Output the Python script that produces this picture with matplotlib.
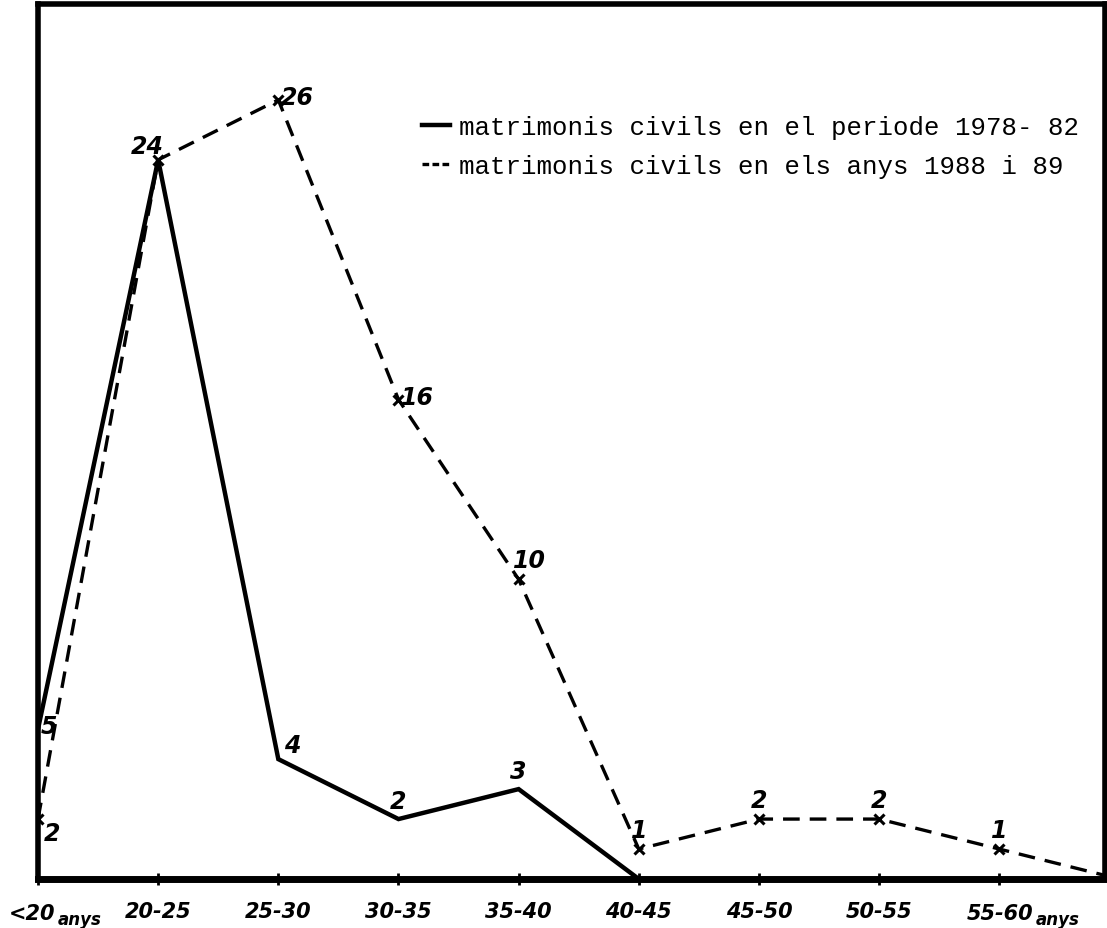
import numpy as np
import matplotlib.pyplot as plt

# data
grups = ['<20', '20-25', '25-30', '30-35', '35-40', '40-45', '45-50', '50-55', '55-60']
periode_78_82 = [5, 24, 4, 2, 3, 0]
anys_88_89 = [2, 24, 26, 16, 10, 1, 2, 2, 1, 0]
etiq_78_82 = ['5', '', '4', '2', '3', '']
etiq_88_89 = ['2', '24', '26', '16', '10', '1', '2', '2', '1', '']

hand = dict(fontsize=17, fontweight='bold', style='italic', family='DejaVu Sans')
tick_font = dict(fontsize=15, fontweight='bold', style='italic')

fig = plt.figure(figsize=(11.07, 9.29), dpi=100)
ax = fig.add_axes([38 / 1107, 49 / 929, 1067 / 1107, 875 / 929])

x1 = np.arange(len(periode_78_82))
x2 = np.arange(len(anys_88_89))
ax.plot(x1, periode_78_82, color='black', lw=3.2, solid_joinstyle='miter')
ax.plot(x2, anys_88_89, color='black', lw=2.4, ls=(0, (5, 3)),
        marker='x', ms=7, mew=2.2)

# point labels
off2 = [(10, -10), (-8, 10), (14, 2), (14, 2), (8, 14), (0, 14), (0, 14), (0, 14), (0, 14), (0, 0)]
for x, y, t, (dx, dy) in zip(x2, anys_88_89, etiq_88_89, off2):
    if t:
        ax.annotate(t, (x, y), xytext=(dx, dy), textcoords='offset points',
                    ha='center', va='center', **hand)
off1 = [(8, 2), (0, 0), (10, 10), (0, 13), (0, 13), (0, 0)]
for x, y, t, (dx, dy) in zip(x1, periode_78_82, etiq_78_82, off1):
    if t:
        ax.annotate(t, (x, y), xytext=(dx, dy), textcoords='offset points',
                    ha='center', va='center', **hand)

ax.set_xlim(0, 8.88)
ax.set_ylim(0, 29.2)
ax.set_yticks([])
ax.set_xticks(np.arange(len(grups)))
ax.set_xticklabels([''] + grups[1:-1] + [''], **tick_font)
ax.tick_params(axis='x', length=8, width=2, direction='inout', pad=12)
for s in ax.spines.values():
    s.set_linewidth(4)
ax.spines['bottom'].set_linewidth(5)

# first and last group labels with small "anys"
trans = ax.get_xaxis_transform()
ax.text(0.14, -0.028, grups[0], transform=trans, ha='right', va='top', **tick_font)
ax.text(0.16, -0.036, 'anys', transform=trans, ha='left', va='top',
        fontsize=12, fontweight='bold', style='italic')
ax.text(8.28, -0.028, grups[-1], transform=trans, ha='right', va='top', **tick_font)
ax.text(8.30, -0.036, 'anys', transform=trans, ha='left', va='top',
        fontsize=12, fontweight='bold', style='italic')

# legend
leg = ax.legend(['matrimonis civils en el periode 1978- 82',
                 'matrimonis civils en els anys 1988 i 89'],
                loc='upper left', bbox_to_anchor=(0.338, 0.9), frameon=False,
                handlelength=1.1, handletextpad=0.35, labelspacing=0.6,
                prop={'family': 'Liberation Mono', 'size': 18.5})
leg.get_lines()[1].set_marker('')
leg.get_lines()[1].set_linestyle((0, (2, 1)))

fig.savefig('out.png', dpi=100)
